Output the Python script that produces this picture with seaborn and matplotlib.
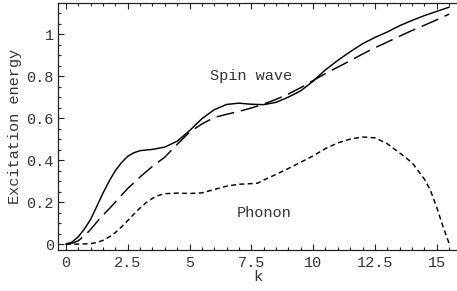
import matplotlib
matplotlib.use("Agg")
import matplotlib.pyplot as plt
import seaborn as sns
import numpy as np
from matplotlib.ticker import MultipleLocator, FuncFormatter

# ---- data ----
k_spin = [0, 0.25, 0.5, 0.75, 1.0, 1.25, 1.5, 1.75, 2.0, 2.25, 2.5, 2.75, 3.0,
          3.5, 4.0, 4.5, 5.0, 5.5, 6.0, 6.5, 7.0, 7.5, 8.0, 8.5, 9.0, 9.5,
          10.0, 10.5, 11.0, 11.5, 12.0, 12.5, 13.0, 13.5, 14.0, 14.5, 15.0, 15.5]
spin_solid = [0, 0.01, 0.035, 0.072, 0.118, 0.18, 0.243, 0.30, 0.35, 0.388,
              0.418, 0.435, 0.445, 0.451, 0.462, 0.49, 0.54, 0.597, 0.64,
              0.665, 0.671, 0.666, 0.664, 0.675, 0.70, 0.73, 0.776, 0.83,
              0.875, 0.916, 0.954, 0.984, 1.01, 1.04, 1.065, 1.088, 1.108, 1.128]
spin_dashed = [0, 0.004, 0.016, 0.04, 0.07, 0.105, 0.138, 0.168, 0.2, 0.233,
               0.265, 0.292, 0.32, 0.37, 0.414, 0.475, 0.533, 0.572, 0.603,
               0.618, 0.632, 0.648, 0.667, 0.689, 0.715, 0.745, 0.779, 0.812,
               0.843, 0.873, 0.905, 0.935, 0.962, 0.99, 1.017, 1.042, 1.068, 1.095]

k_phonon = [0, 0.5, 1.0, 1.25, 1.5, 1.75, 2.0, 2.25, 2.5, 2.75, 3.0, 3.25, 3.5,
            3.75, 4.0, 4.5, 5.0, 5.5, 6.0, 6.5, 7.0, 7.5, 7.75, 8.0, 8.5, 9.0,
            9.5, 10.0, 10.5, 11.0, 11.5, 12.0, 12.5, 13.0, 13.5, 14.0, 14.5,
            14.75, 15.0, 15.25, 15.5]
phonon = [0, 0.0, 0.002, 0.008, 0.018, 0.034, 0.055, 0.082, 0.112, 0.143,
          0.172, 0.198, 0.218, 0.232, 0.240, 0.243, 0.241, 0.244, 0.26, 0.276,
          0.285, 0.288, 0.29, 0.305, 0.332, 0.36, 0.39, 0.42, 0.455, 0.482,
          0.5, 0.51, 0.506, 0.478, 0.434, 0.388, 0.31, 0.255, 0.175, 0.085, 0.003]

x_ticks = [0, 2.5, 5, 7.5, 10, 12.5, 15]
y_ticks = [0, 0.2, 0.4, 0.6, 0.8, 1.0]

sns.set_theme(style="ticks")
plt.rcParams['font.family'] = ['Liberation Mono', 'DejaVu Sans Mono']
plt.rcParams['lines.scale_dashes'] = False

fig = plt.figure(figsize=(4.57, 2.91), dpi=100)
ax = fig.add_axes([58/457, 41/291, 399/457, 247/291])

sns.lineplot(x=k_spin, y=spin_solid, ax=ax, color='black', linewidth=1.05)
sns.lineplot(x=k_spin, y=spin_dashed, ax=ax, color='black', linewidth=1.05)
sns.lineplot(x=k_phonon, y=phonon, ax=ax, color='black', linewidth=1.05)
ax.lines[1].set_dashes([13.0, 5.0])
ax.lines[2].set_dashes([3.6, 2.4])

ax.set_xlim(-0.32, 15.82)
ax.set_ylim(-0.028, 1.148)
ax.set_xticks(x_ticks)
ax.set_yticks(y_ticks)
ax.xaxis.set_minor_locator(MultipleLocator(0.5))
ax.yaxis.set_minor_locator(MultipleLocator(0.05))
fmt = FuncFormatter(lambda v, p: f"{v:g}")
ax.xaxis.set_major_formatter(fmt)
ax.yaxis.set_major_formatter(fmt)

ax.tick_params(which='both', direction='in', top=True, right=False,
               colors='#222222', labelcolor='#333333', labelsize=11, width=0.8)
ax.tick_params(which='major', length=4.5)
ax.tick_params(which='minor', length=2.5)
ax.tick_params(axis='x', pad=4)
ax.tick_params(axis='y', pad=3)

for s in ['left', 'bottom', 'top']:
    ax.spines[s].set_color('#222222')
    ax.spines[s].set_linewidth(0.9)
ax.spines['right'].set_visible(False)

ax.set_xlabel('k', fontsize=11, color='#333333', labelpad=0)
ax.set_ylabel('Excitation energy', fontsize=11, color='#333333', labelpad=3)

ax.text(7.5, 0.80, 'Spin wave', fontsize=11, color='#333333', ha='center', va='center')
ax.text(8.0, 0.148, 'Phonon', fontsize=11, color='#333333', ha='center', va='center')

fig.savefig('out.png', dpi=100)
